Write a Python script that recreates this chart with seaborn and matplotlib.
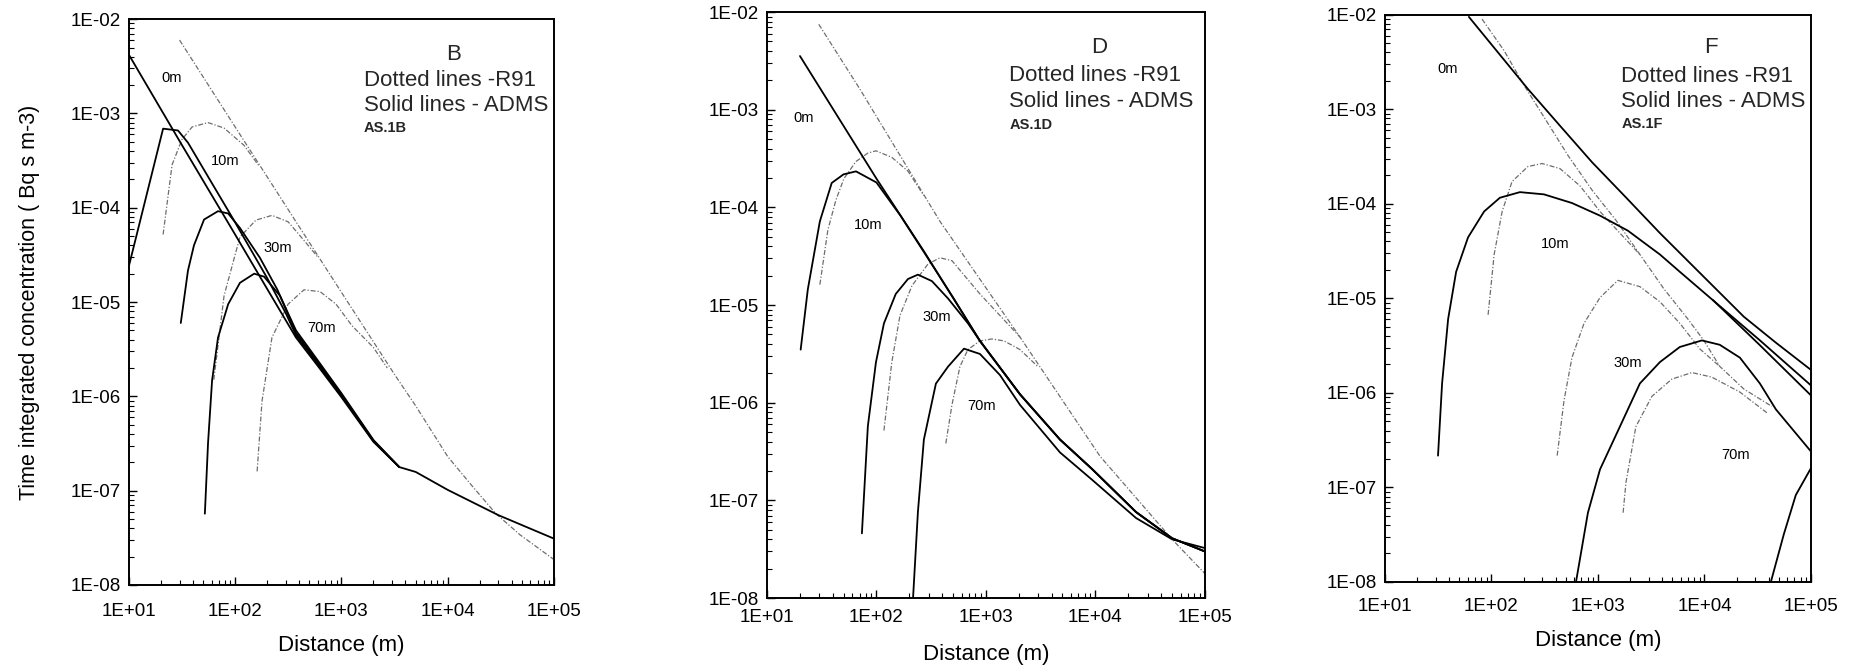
import numpy as np
import matplotlib
matplotlib.use('Agg')
import matplotlib.pyplot as plt
from matplotlib.ticker import FixedLocator, FuncFormatter, NullFormatter
import seaborn as sns

sns.set_style('white')
plt.rcParams['font.family'] = ['Liberation Sans', 'DejaVu Sans']

# ---- panel B : ADMS (solid) ----
B_ADMS_0M_X = [10, 30, 100, 200, 374, 600, 1000, 2000, 3500, 5000, 10000, 30000, 100000]
B_ADMS_0M_Y = [4.2e-3, 5.1e-4, 5.2e-5, 1.38e-5, 4.2e-6, 2.1e-6, 9.8e-7, 3.3e-7, 1.78e-7, 1.58e-7, 1.02e-7, 5.5e-8, 3.1e-8]
B_ADMS_10M_X = [10, 21, 29, 36, 60, 100, 200, 300, 374, 600, 1000, 2000, 3500]
B_ADMS_10M_Y = [2.4e-5, 6.9e-4, 6.6e-4, 4.9e-4, 1.85e-4, 7.0e-5, 1.8e-5, 7.6e-6, 4.45e-6, 2.2e-6, 1.02e-6, 3.35e-7, 1.78e-7]
B_ADMS_30M_X = [30.8, 36, 41, 51, 69, 86, 111, 171, 250, 374, 600, 1000, 2000, 3500]
B_ADMS_30M_Y = [6.0e-6, 2.16e-5, 4.0e-5, 7.5e-5, 9.2e-5, 8.7e-5, 6.1e-5, 2.95e-5, 1.35e-5, 4.7e-6, 2.3e-6, 1.05e-6, 3.4e-7, 1.78e-7]
B_ADMS_70M_X = [51.9, 55.6, 60.7, 69, 86, 111, 151, 187, 264, 374, 600, 1000, 2000, 3500]
B_ADMS_70M_Y = [5.7e-8, 3.2e-7, 1.48e-6, 4.2e-6, 9.5e-6, 1.6e-5, 2.0e-5, 1.86e-5, 1.17e-5, 5.0e-6, 2.4e-6, 1.08e-6, 3.45e-7, 1.78e-7]
# ---- panel B : R91 (dotted) ----
B_R91_0M_X = [30, 100, 374, 1000, 3126, 5010, 10000, 17000, 28400, 48000, 100000]
B_R91_0M_Y = [6.0e-3, 7.2e-4, 7.1e-5, 1.27e-5, 1.74e-6, 7.9e-7, 2.3e-7, 1.12e-7, 5.7e-8, 3.4e-8, 1.86e-8]
B_R91_10M_X = [21, 25.5, 31.6, 39.4, 55.6, 78.7, 121, 170]
B_R91_10M_Y = [5.2e-5, 2.85e-4, 5.3e-4, 7.2e-4, 8.0e-4, 7.0e-4, 4.6e-4, 2.72e-4]
B_R91_30M_X = [63, 78.7, 111, 157, 222, 315, 445, 600]
B_R91_30M_Y = [1.5e-6, 1.17e-5, 4.9e-5, 7.4e-5, 8.3e-5, 7.1e-5, 4.5e-5, 3.0e-5]
B_R91_70M_X = [161, 179, 222, 315, 445, 630, 890, 1260, 2000, 2700]
B_R91_70M_Y = [1.6e-7, 8.9e-7, 4.2e-6, 9.5e-6, 1.35e-5, 1.29e-5, 9.5e-6, 5.6e-6, 3.3e-6, 2.0e-6]

# ---- panel D : ADMS (solid) ----
D_ADMS_0M_X = [20, 100, 271, 881, 2047, 4745, 9300, 23500, 50100, 100000]
D_ADMS_0M_Y = [3.55e-3, 1.97e-4, 3.56e-5, 4.3e-6, 1.22e-6, 4.2e-7, 2.1e-7, 7.6e-8, 4.1e-8, 3.0e-8]
D_ADMS_10M_X = [20.3, 23.6, 30.4, 39, 50, 65, 100, 166, 271, 500, 881, 2047, 4745, 9300, 23500, 50100, 100000]
D_ADMS_10M_Y = [3.5e-6, 1.45e-5, 7.2e-5, 1.78e-4, 2.18e-4, 2.34e-4, 1.8e-4, 8.2e-5, 3.5e-5, 1.2e-5, 4.3e-6, 1.22e-6, 4.2e-7, 2.1e-7, 7.6e-8, 4.1e-8, 3.0e-8]
D_ADMS_30M_X = [73.6, 83.4, 98.9, 117, 150, 194, 239, 321, 450, 685, 881, 2047, 4745, 9300, 23500, 50100, 100000]
D_ADMS_30M_Y = [4.6e-8, 5.75e-7, 2.6e-6, 6.5e-6, 1.3e-5, 1.85e-5, 2.05e-5, 1.76e-5, 1.17e-5, 6.5e-6, 4.3e-6, 1.22e-6, 4.2e-7, 2.1e-7, 7.6e-8, 4.1e-8, 3.0e-8]
D_ADMS_70M_X = [216, 239, 271, 349, 450, 630, 881, 1343, 2047, 4745, 9300, 23500, 50100, 100000]
D_ADMS_70M_Y = [1.02e-8, 7.6e-8, 4.2e-7, 1.57e-6, 2.34e-6, 3.58e-6, 3.16e-6, 1.92e-6, 9.5e-7, 3.1e-7, 1.63e-7, 6.6e-8, 4.0e-8, 3.25e-8]
# ---- panel D : R91 (dotted) ----
D_R91_0M_X = [29.7, 70.5, 380, 1000, 2047, 11020, 50100, 100000]
D_R91_0M_Y = [7.5e-3, 1.63e-3, 7.2e-5, 1.5e-5, 4.7e-6, 2.83e-7, 4.0e-8, 1.78e-8]
D_R91_10M_X = [30.4, 36, 42.6, 50.4, 64.9, 83.4, 98.9, 138, 194, 271]
D_R91_10M_Y = [1.62e-5, 5.9e-5, 1.19e-4, 1.97e-4, 2.95e-4, 3.6e-4, 3.8e-4, 3.26e-4, 2.35e-4, 1.32e-4]
D_R91_30M_X = [117, 138, 164, 211, 295, 380, 489, 881, 2047]
D_R91_30M_Y = [5.2e-7, 2.6e-6, 7.85e-6, 1.58e-5, 2.63e-5, 3.05e-5, 2.85e-5, 1.3e-5, 4.7e-6]
D_R91_70M_X = [430, 489, 578, 684, 881, 1135, 1462, 2047, 2985]
D_R91_70M_Y = [3.83e-7, 9.5e-7, 2.34e-6, 3.5e-6, 4.3e-6, 4.5e-6, 4.3e-6, 3.5e-6, 2.34e-6]

# ---- panel F : ADMS (solid) ----
F_ADMS_0M_X = [61.4, 220, 440, 879, 1754, 3820, 12800, 23400, 46800, 100000]
F_ADMS_0M_Y = [9.5e-3, 1.64e-3, 6.7e-4, 2.76e-4, 1.23e-4, 4.9e-5, 1.26e-5, 6.4e-6, 3.4e-6, 1.75e-6]
F_ADMS_10M_X = [31.5, 34.4, 39.2, 46.6, 60.3, 85.3, 120, 185, 311, 570, 1045, 1910, 3820, 5870, 13900, 33100, 100000]
F_ADMS_10M_Y = [2.17e-7, 1.26e-6, 6.05e-6, 1.91e-5, 4.42e-5, 8.3e-5, 1.16e-4, 1.33e-4, 1.26e-4, 1.02e-4, 7.5e-5, 5.2e-5, 2.91e-5, 1.91e-5, 8.3e-6, 3.6e-6, 1.2e-6]
F_ADMS_10M_B_X = [12000, 33100, 100000]
F_ADMS_10M_B_Y = [9.6e-6, 3.2e-6, 9.4e-7]
F_ADMS_30M_X = [622, 805, 1045, 1607, 1910, 2477, 3820, 5870, 9460, 13900, 21500, 33100, 46800, 100000]
F_ADMS_30M_Y = [1.0e-8, 5.4e-8, 1.55e-7, 4.4e-7, 6.7e-7, 1.26e-6, 2.12e-6, 3.06e-6, 3.59e-6, 3.23e-6, 2.36e-6, 1.26e-6, 6.7e-7, 2.4e-7]
F_ADMS_70M_X = [42000, 55600, 72000, 100000]
F_ADMS_70M_Y = [1.0e-8, 3.2e-8, 8.3e-8, 1.6e-7]
# ---- panel F : R91 (dotted) ----
F_R91_0M_X = [81.6, 131, 202, 311, 524, 879, 1476, 2477, 4160, 6980, 9860, 13900, 23400, 42900]
F_R91_0M_Y = [9.0e-3, 4.2e-3, 1.8e-3, 8.3e-4, 3.24e-4, 1.4e-4, 6.7e-5, 2.91e-5, 1.26e-5, 6.05e-6, 3.59e-6, 1.91e-6, 1.1e-6, 7.2e-7]
F_R91_10M_X = [93, 106, 126, 156, 220, 299, 440, 678, 1045, 1607, 2477]
F_R91_10M_Y = [6.7e-6, 2.91e-5, 8.3e-5, 1.72e-4, 2.48e-4, 2.67e-4, 2.36e-4, 1.55e-4, 8.3e-5, 4.9e-5, 2.91e-5]
F_R91_30M_X = [414, 480, 570, 740, 1045, 1540, 2477, 3820, 5870, 9060, 13900]
F_R91_30M_Y = [2.17e-7, 8.3e-7, 2.36e-6, 5.45e-6, 1.02e-5, 1.55e-5, 1.33e-5, 9.2e-6, 5.45e-6, 2.91e-6, 1.91e-6]
F_R91_70M_X = [1722, 1832, 2270, 3210, 4940, 7620, 11700, 21500, 39400]
F_R91_70M_Y = [5.4e-8, 1.13e-7, 4.4e-7, 9.2e-7, 1.4e-6, 1.64e-6, 1.47e-6, 1.02e-6, 6.05e-7]

HEIGHTS = ['0m', '10m', '30m', '70m']
X_DECADES = [1e1, 1e2, 1e3, 1e4, 1e5]
Y_DECADES = [1e-8, 1e-7, 1e-6, 1e-5, 1e-4, 1e-3, 1e-2]

# 面板设置: 位置 [left, bottom, width, height], 标签位置
PANELS = [
    dict(letter='B', code='AS.1B', rect=[0.0695, 0.1295, 0.2293, 0.842],
         adms=[(B_ADMS_0M_X, B_ADMS_0M_Y), (B_ADMS_10M_X, B_ADMS_10M_Y),
               (B_ADMS_30M_X, B_ADMS_30M_Y), (B_ADMS_70M_X, B_ADMS_70M_Y)],
         r91=[(B_R91_0M_X, B_R91_0M_Y), (B_R91_10M_X, B_R91_10M_Y),
              (B_R91_30M_X, B_R91_30M_Y), (B_R91_70M_X, B_R91_70M_Y)],
         label_pos=[(0.10, 0.896), (0.227, 0.75), (0.351, 0.595), (0.454, 0.455)],
         head=(0.763, 0.938, 0.553), xpad=13, xlabelpad=11),
    dict(letter='D', code='AS.1D', rect=[0.4137, 0.110, 0.2362, 0.872],
         adms=[(D_ADMS_0M_X, D_ADMS_0M_Y), (D_ADMS_10M_X, D_ADMS_10M_Y),
               (D_ADMS_30M_X, D_ADMS_30M_Y), (D_ADMS_70M_X, D_ADMS_70M_Y)],
         r91=[(D_R91_0M_X, D_R91_0M_Y), (D_R91_10M_X, D_R91_10M_Y),
              (D_R91_30M_X, D_R91_30M_Y), (D_R91_70M_X, D_R91_70M_Y)],
         label_pos=[(0.084, 0.819), (0.232, 0.636), (0.388, 0.48), (0.49, 0.327)],
         head=(0.758, 0.94, 0.553), xpad=8, xlabelpad=13),
    dict(letter='F', code='AS.1F', rect=[0.747, 0.134, 0.2298, 0.844],
         adms=[(F_ADMS_0M_X, F_ADMS_0M_Y), (F_ADMS_10M_X, F_ADMS_10M_Y),
               (F_ADMS_10M_B_X, F_ADMS_10M_B_Y),
               (F_ADMS_30M_X, F_ADMS_30M_Y), (F_ADMS_70M_X, F_ADMS_70M_Y)],
         r91=[(F_R91_0M_X, F_R91_0M_Y), (F_R91_10M_X, F_R91_10M_Y),
              (F_R91_30M_X, F_R91_30M_Y), (F_R91_70M_X, F_R91_70M_Y)],
         label_pos=[(0.146, 0.905), (0.40, 0.596), (0.57, 0.386), (0.824, 0.223)],
         head=(0.764, 0.942, 0.555), xpad=11.5, xlabelpad=11),
]


def exp_label(v, pos):
    return '1E%+03d' % int(round(np.log10(v)))


def minor_ticks(decades):
    out = []
    for d in decades[:-1]:
        out.extend([d * k for k in range(2, 10)])
    return out


def draw_panel(ax, p):
    ax.set_xscale('log')
    ax.set_yscale('log')
    # R91 虚线
    for xs, ys in p['r91']:
        sns.lineplot(x=xs, y=ys, ax=ax, color='#6e6e6e', linewidth=0.9,
                     linestyle=(0, (4, 1.5, 1, 1.5)), estimator=None, sort=False)
    # ADMS 实线
    for xs, ys in p['adms']:
        sns.lineplot(x=xs, y=ys, ax=ax, color='black', linewidth=1.3,
                     estimator=None, sort=False)
    ax.set_xlim(10, 1e5)
    ax.set_ylim(1e-8, 1e-2)

    # 只在坐标范围内设置刻度
    for axis, dec in ((ax.xaxis, X_DECADES), (ax.yaxis, Y_DECADES)):
        axis.set_major_locator(FixedLocator(dec))
        axis.set_minor_locator(FixedLocator(minor_ticks(dec)))
        axis.set_major_formatter(FuncFormatter(exp_label))
        axis.set_minor_formatter(NullFormatter())
    ax.tick_params(which='both', direction='in', left=True, bottom=True,
                   top=False, right=False, colors='black')
    ax.tick_params(which='major', length=6, width=1.0, labelsize=13.5)
    ax.tick_params(which='minor', length=3.5, width=0.8)
    ax.tick_params(axis='y', which='major', pad=6)
    ax.tick_params(axis='x', which='major', pad=p['xpad'])
    for s in ax.spines.values():
        s.set_color('black')
        s.set_linewidth(1.4)

    ax.set_xlabel('Distance (m)', fontsize=16, labelpad=p['xlabelpad'], color='black')
    ax.set_ylabel('')

    for name, (tx, ty) in zip(HEIGHTS, p['label_pos']):
        ax.text(tx, ty, name, transform=ax.transAxes, fontsize=10.5,
                ha='center', va='center', color='black')
    lx, ly, left = p['head']
    ax.text(lx, ly, p['letter'], transform=ax.transAxes, fontsize=16,
            ha='center', va='center')
    ax.text(left, 0.892, 'Dotted lines -R91', transform=ax.transAxes,
            fontsize=16, ha='left', va='center')
    ax.text(left, 0.847, 'Solid lines - ADMS', transform=ax.transAxes,
            fontsize=16, ha='left', va='center')
    ax.text(left, 0.808, p['code'], transform=ax.transAxes, fontsize=10.5,
            fontweight='bold', ha='left', va='center')


fig = plt.figure(figsize=(18.54, 6.72), dpi=100)
fig.patch.set_facecolor('white')
for i, p in enumerate(PANELS):
    ax = fig.add_axes(p['rect'])
    draw_panel(ax, p)
    if i == 0:
        ax.set_ylabel('Time integrated concentration ( Bq s m-3)', fontsize=15.5,
                      labelpad=22, color='black')

fig.savefig('out.png', dpi=100, facecolor='white')
